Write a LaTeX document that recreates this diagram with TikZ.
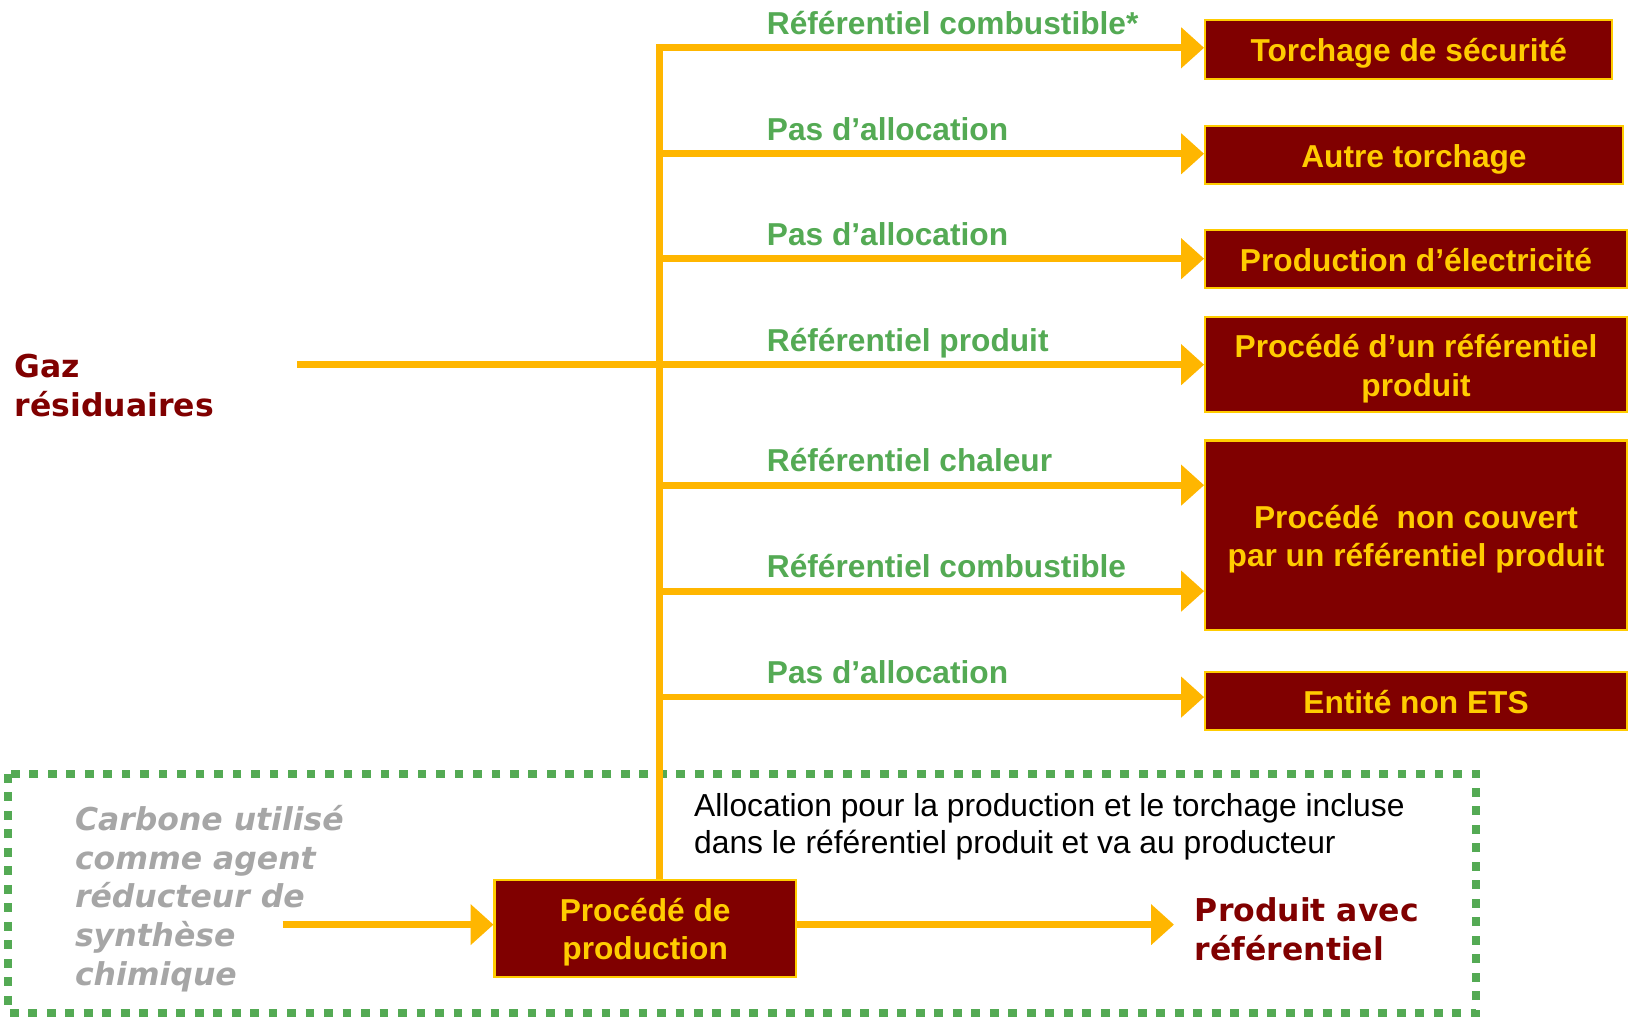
\documentclass[tikz,border=0pt]{standalone}
\usepackage{fontspec}
\setmainfont{Liberation Sans}
\newfontfamily\dvs{DejaVu Sans}
\usetikzlibrary{arrows.meta}
\definecolor{dred}{RGB}{128,0,0}
\definecolor{gold}{RGB}{255,182,0}
\definecolor{boxtxt}{RGB}{255,204,0}
\definecolor{lgreen}{RGB}{84,170,84}
\definecolor{gtxt}{RGB}{166,166,166}
\begin{document}
\begin{tikzpicture}[x=1pt,y=-1pt,
  box/.style={draw=boxtxt, line width=2pt, fill=dred, text=boxtxt,
    font=\fontsize{30.5}{37}\selectfont\bfseries, align=center, inner sep=0pt,
    text height=24pt, text depth=0pt},
  twoline/.style={text height=61pt, text depth=0pt},
  lab/.style={anchor=base west, inner sep=0pt, text=lgreen,
    font=\fontsize{30.5}{37}\selectfont\bfseries},
  arr/.style={draw=gold, line width=6.5pt, -{Triangle[width=38pt,length=22pt]}},
  ln/.style={draw=gold, line width=6.5pt}]
\useasboundingbox (0,0) rectangle (1568,979);

% dotted frame
\draw[lgreen, line width=8pt, dash pattern=on 8.5pt off 9.3pt] (8,745) rectangle (1421,975);

% target boxes
\node[box, minimum width=392pt, minimum height=57pt] (b1) at (1356,47.5) {Torchage de sécurité};
\node[box, minimum width=402pt, minimum height=56pt] (b2) at (1361,149) {Autre torchage};
\node[box, minimum width=406pt, minimum height=56pt] (b3) at (1363,249) {Production d’électricité};
\node[box, twoline, minimum width=406pt, minimum height=92pt] (b4) at (1363,351) {Procédé d’un référentiel\\produit};
\node[box, twoline, minimum width=406pt, minimum height=182pt] (b5) at (1363,515) {Procédé\ \ non couvert\\par un référentiel produit};
\node[box, minimum width=406pt, minimum height=56pt] (b6) at (1363,675) {Entité non ETS};
\node[box, twoline, minimum width=290pt, minimum height=93pt] (prod) at (621,893.5) {Procédé de\\production};

% trunk coordinates
\coordinate (t1) at (635,46);
\coordinate (t2) at (635,148);
\coordinate (t3) at (635,249);
\coordinate (t4) at (635,351);
\coordinate (t5) at (635,467);
\coordinate (t6) at (635,569);
\coordinate (t7) at (635,671);
\coordinate (g0) at (286,351);
\coordinate (c0) at (272,890);

% trunk and branches
\draw[ln] ([yshift=3.25pt]t1) -- (t1 |- prod.north);
\draw[ln] (g0) -- (t4);
\draw[arr] (t1) -- (t1 -| b1.west);
\draw[arr] (t2) -- (t2 -| b2.west);
\draw[arr] (t3) -- (t3 -| b3.west);
\draw[arr] (t4) -- (t4 -| b4.west);
\draw[arr] (t5) -- (t5 -| b5.west);
\draw[arr] (t6) -- (t6 -| b5.west);
\draw[arr] (t7) -- (t7 -| b6.west);

% branch labels
\node[lab] (l1) at (738,33) {Référentiel combustible*};
\node[lab] (l2) at (738,135) {Pas d’allocation};
\node[lab] (l3) at (738,236) {Pas d’allocation};
\node[lab] (l4) at (738,338) {Référentiel produit};
\node[lab] (l5) at (738,454) {Référentiel chaleur};
\node[lab] (l6) at (738,556) {Référentiel combustible};
\node[lab] (l7) at (738,658) {Pas d’allocation};

% left texts
\node[anchor=west, align=left, inner sep=0pt, text=dred,
  font=\dvs\fontsize{30.3}{37}\selectfont\bfseries] (gaz) at (14,371) {Gaz\\résiduaires};
\node[anchor=west, align=left, inner sep=0pt, text=gtxt,
  font=\dvs\fontsize{30.3}{37.3}\selectfont\bfseries\itshape] (carb) at (72,865)
  {Carbone utilisé\\comme agent\\réducteur de\\synthèse\\chimique};

% allocation note
\node[anchor=west, align=left, inner sep=0pt,
  font=\fontsize{30.6}{36}\selectfont] (alloc) at (668,796)
  {Allocation pour la production et le torchage incluse\\dans le référentiel produit et va au producteur};

% product
\node[anchor=west, align=left, inner xsep=20pt, inner ysep=0pt, text=dred,
  font=\dvs\fontsize{30.3}{37}\selectfont\bfseries] (produit) at (1130,894.5) {Produit avec\\référentiel};

\draw[arr] (c0) -- (c0 -| prod.west);
\draw[arr] (prod.east |- c0) -- (produit.west |- c0);
\end{tikzpicture}
\end{document}
